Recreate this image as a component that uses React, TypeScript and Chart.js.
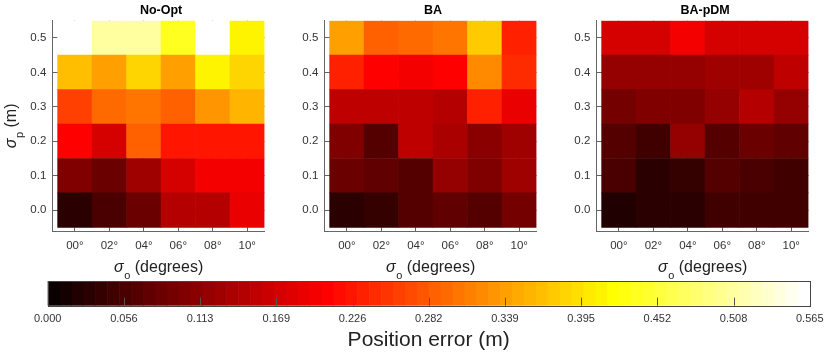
import React, { useEffect, useRef } from 'react';
import { Chart, registerables } from 'chart.js';

Chart.register(...registerables);

// ---------------- data ----------------
const sigmaO = [0, 2, 4, 6, 8, 10];
const sigmaOLabels = ['00°', '02°', '04°', '06°', '08°', '10°'];
const sigmaP = [0.0, 0.1, 0.2, 0.3, 0.4, 0.5];
const sigmaPLabels = ['0.0', '0.1', '0.2', '0.3', '0.4', '0.5'];

// rows: sigmaP 0.0 -> 0.5, columns: sigmaO 00 -> 10
const noOptError = [
  [0.035, 0.057, 0.082, 0.142, 0.142, 0.188],
  [0.102, 0.082, 0.128, 0.175, 0.195, 0.195],
  [0.208, 0.169, 0.287, 0.228, 0.228, 0.228],
  [0.26, 0.294, 0.307, 0.287, 0.328, 0.36],
  [0.366, 0.34, 0.38, 0.34, 0.41, 0.387],
  [0.565, 0.512, 0.512, 0.437, 0.565, 0.407],
];
const baError = [
  [0.028, 0.042, 0.062, 0.075, 0.062, 0.095],
  [0.088, 0.075, 0.069, 0.115, 0.102, 0.128],
  [0.102, 0.069, 0.155, 0.135, 0.108, 0.128],
  [0.155, 0.155, 0.155, 0.148, 0.234, 0.188],
  [0.234, 0.208, 0.2, 0.208, 0.32, 0.247],
  [0.34, 0.29, 0.3, 0.307, 0.374, 0.234],
];
const baPdmError = [
  [0.022, 0.035, 0.035, 0.049, 0.052, 0.052],
  [0.057, 0.035, 0.042, 0.069, 0.06, 0.052],
  [0.062, 0.049, 0.122, 0.069, 0.082, 0.072],
  [0.095, 0.105, 0.105, 0.122, 0.148, 0.115],
  [0.122, 0.122, 0.115, 0.128, 0.128, 0.155],
  [0.169, 0.169, 0.195, 0.169, 0.169, 0.169],
];
const panelTitles = ['No-Opt', 'BA', 'BA-pDM'];

const colorMin = 0;
const colorMax = 0.565;
const colorTicks = [0, 0.0565, 0.113, 0.1695, 0.226, 0.2825, 0.339, 0.3955, 0.452, 0.5085, 0.565];
const colorTickLabels = ['0.000', '0.056', '0.113', '0.169', '0.226', '0.282', '0.339', '0.395', '0.452', '0.508', '0.565'];
const colorbarTitle = 'Position error (m)';

// ---------------- style ----------------
const FONT = '"Liberation Sans", Arial, Helvetica, sans-serif';
const LEVELS = 64;
const CELL_HALF_X = 1;
const CELL_HALF_Y = 0.05;

function hotLevel(k: number) {
  const n = 24;
  const r = Math.min(1, (k + 1) / n);
  const g = Math.max(0, Math.min(1, (k + 1 - n) / n));
  const b = Math.max(0, Math.min(1, (k + 1 - 2 * n) / (LEVELS - 2 * n)));
  return `rgb(${Math.round(r * 255)},${Math.round(g * 255)},${Math.round(b * 255)})`;
}
function hotColor(v: number) {
  let k = Math.floor(((v - colorMin) / (colorMax - colorMin)) * LEVELS);
  k = Math.max(0, Math.min(LEVELS - 1, k));
  return hotLevel(k);
}

function drawSubLabel(ctx: CanvasRenderingContext2D, sym: string, sub: string, rest: string, cx: number, baseline: number) {
  const mainFont = `16px ${FONT}`;
  const symFont = `italic 16px ${FONT}`;
  const subFont = `11px ${FONT}`;
  ctx.font = symFont;
  const w1 = ctx.measureText(sym).width;
  ctx.font = subFont;
  const w2 = ctx.measureText(sub).width;
  ctx.font = mainFont;
  const w3 = ctx.measureText(rest).width;
  let x = cx - (w1 + w2 + w3) / 2;
  ctx.textAlign = 'left';
  ctx.textBaseline = 'alphabetic';
  ctx.fillStyle = '#222';
  ctx.font = symFont;
  ctx.fillText(sym, x, baseline);
  x += w1 + 0.5;
  ctx.font = subFont;
  ctx.fillText(sub, x, baseline + 6.5);
  x += w2;
  ctx.font = mainFont;
  ctx.fillText(rest, x, baseline);
}

function HeatPanel({ left, title, values, showYTitle }: { left: number; title: string; values: number[][]; showYTitle: boolean }) {
  const ref = useRef<HTMLCanvasElement | null>(null);
  useEffect(() => {
    if (!ref.current) return;
    const textPlugin = {
      id: 'panelText',
      afterDraw(chart: any) {
        const { ctx, chartArea, scales } = chart;
        const xs = scales.x;
        ctx.save();
        ctx.fillStyle = '#000';
        ctx.font = `bold 12.5px ${FONT}`;
        ctx.textAlign = 'center';
        ctx.textBaseline = 'middle';
        const c0 = xs.getPixelForValue(sigmaO[0] - CELL_HALF_X);
        const c1 = xs.getPixelForValue(sigmaO[sigmaO.length - 1] + CELL_HALF_X);
        ctx.fillText(title, (c0 + c1) / 2, 10.5);
        drawSubLabel(ctx, 'σ', 'o', ' (degrees)', (chartArea.left + chartArea.right) / 2, 272);
        if (showYTitle) {
          ctx.translate(16, (chartArea.top + chartArea.bottom) / 2);
          ctx.rotate(-Math.PI / 2);
          drawSubLabel(ctx, 'σ', 'p', ' (m)', 0, 0);
        }
        ctx.restore();
      },
    };
    const datasets = values.map((row, ri) => ({
      data: row.map((_v, ci) => ({ x: sigmaO[ci], y: [sigmaP[ri] - CELL_HALF_Y, sigmaP[ri] + CELL_HALF_Y] })),
      backgroundColor: row.map((v) => hotColor(v)),
      borderWidth: 0,
      barPercentage: 1,
      categoryPercentage: 1,
      grouped: false,
    }));
    const chart = new Chart(ref.current, {
      type: 'bar',
      data: { datasets } as any,
      options: {
        animation: false,
        responsive: false,
        devicePixelRatio: 1,
        layout: { padding: { left: 0, right: 10.5, top: 20.7, bottom: 0 } },
        plugins: { legend: { display: false }, tooltip: { enabled: false }, title: { display: false } },
        scales: {
          x: {
            type: 'linear',
            offset: false,
            min: -1.31,
            max: 11,
            afterBuildTicks: (s: any) => {
              s.ticks = sigmaO.map((v) => ({ value: v }));
            },
            afterFit: (s: any) => {
              s.height = 48.5;
            },
            ticks: {
              autoSkip: false,
              maxRotation: 0,
              minRotation: 0,
              padding: 7.5,
              color: '#333',
              font: { size: 11.5, family: FONT },
              callback: (_v: any, i: number) => sigmaOLabels[i],
            },
            grid: { color: '#666', lineWidth: 1, drawTicks: false, drawOnChartArea: true, offset: false },
            border: { display: true, color: '#666', width: 1 },
          },
          y: {
            type: 'linear',
            offset: false,
            min: -0.062,
            max: 0.55,
            afterBuildTicks: (s: any) => {
              s.ticks = sigmaP.map((v) => ({ value: v }));
            },
            afterFit: (s: any) => {
              s.width = 52.3;
            },
            ticks: {
              autoSkip: false,
              padding: 6,
              color: '#333',
              font: { size: 11.5, family: FONT },
              callback: (_v: any, i: number) => sigmaPLabels[i],
            },
            grid: { color: '#666', lineWidth: 1, drawTicks: false, drawOnChartArea: true, offset: false },
            border: { display: true, color: '#666', width: 1 },
          },
        },
      } as any,
      plugins: [textPlugin],
    });
    return () => chart.destroy();
  }, [left, title, values, showYTitle]);
  return <canvas ref={ref} width={275} height={280} style={{ position: 'absolute', left, top: 0, width: 275, height: 280 }} />;
}

function ColorBar() {
  const ref = useRef<HTMLCanvasElement | null>(null);
  useEffect(() => {
    if (!ref.current) return;
    const barPlugin = {
      id: 'colorbarBands',
      beforeDatasetsDraw(chart: any) {
        const { ctx, chartArea, scales } = chart;
        const xs = scales.x;
        ctx.save();
        for (let k = 0; k < LEVELS; k++) {
          const a = xs.getPixelForValue(colorMin + ((colorMax - colorMin) * k) / LEVELS);
          const b = xs.getPixelForValue(colorMin + ((colorMax - colorMin) * (k + 1)) / LEVELS);
          ctx.fillStyle = hotLevel(k);
          ctx.fillRect(a, chartArea.top, b - a + 0.6, chartArea.bottom - chartArea.top);
        }
        ctx.strokeStyle = '#555';
        ctx.lineWidth = 1;
        for (const t of colorTicks) {
          const x = Math.round(xs.getPixelForValue(t)) + 0.5;
          ctx.beginPath();
          ctx.moveTo(x, chartArea.bottom);
          ctx.lineTo(x, chartArea.bottom - 8);
          ctx.stroke();
        }
        ctx.strokeStyle = '#444';
        ctx.strokeRect(
          Math.round(chartArea.left) + 0.5,
          Math.round(chartArea.top) + 0.5,
          Math.round(chartArea.right - chartArea.left),
          Math.round(chartArea.bottom - chartArea.top)
        );
        ctx.restore();
      },
    };
    const chart = new Chart(ref.current, {
      type: 'scatter',
      data: { datasets: [] },
      options: {
        animation: false,
        responsive: false,
        devicePixelRatio: 1,
        layout: { padding: { left: 47.7, right: 16.7, top: 11, bottom: 0 } },
        plugins: { legend: { display: false }, tooltip: { enabled: false } },
        scales: {
          x: {
            type: 'linear',
            min: colorMin,
            max: colorMax,
            afterBuildTicks: (s: any) => {
              s.ticks = colorTicks.map((v) => ({ value: v }));
            },
            afterFit: (s: any) => {
              s.height = 49.3;
            },
            ticks: {
              autoSkip: false,
              maxRotation: 0,
              minRotation: 0,
              padding: 6.5,
              color: '#333',
              font: { size: 11, family: FONT },
              callback: (_v: any, i: number) => colorTickLabels[i],
            },
            grid: { display: false, drawTicks: false },
            border: { display: false },
            title: {
              display: true,
              text: colorbarTitle,
              color: '#222',
              font: { size: 21, family: FONT },
              padding: { top: 0, bottom: 2.4 },
            },
          },
          y: { type: 'linear', display: false, min: 0, max: 1 },
        },
      } as any,
      plugins: [barPlugin],
    });
    return () => chart.destroy();
  }, []);
  return <canvas ref={ref} width={830} height={85} style={{ position: 'absolute', left: 0, top: 270, width: 830, height: 85 }} />;
}

const panelValues = [noOptError, baError, baPdmError];
const panelLefts = [0, 272, 544];

export default function App() {
  return (
    <div style={{ position: 'fixed', left: 0, top: 0, width: 830, height: 355, background: '#fff', overflow: 'hidden' }}>
      {panelValues.map((vals, i) => (
        <HeatPanel key={i} left={panelLefts[i]} title={panelTitles[i]} values={vals} showYTitle={i === 0} />
      ))}
      <ColorBar />
    </div>
  );
}
